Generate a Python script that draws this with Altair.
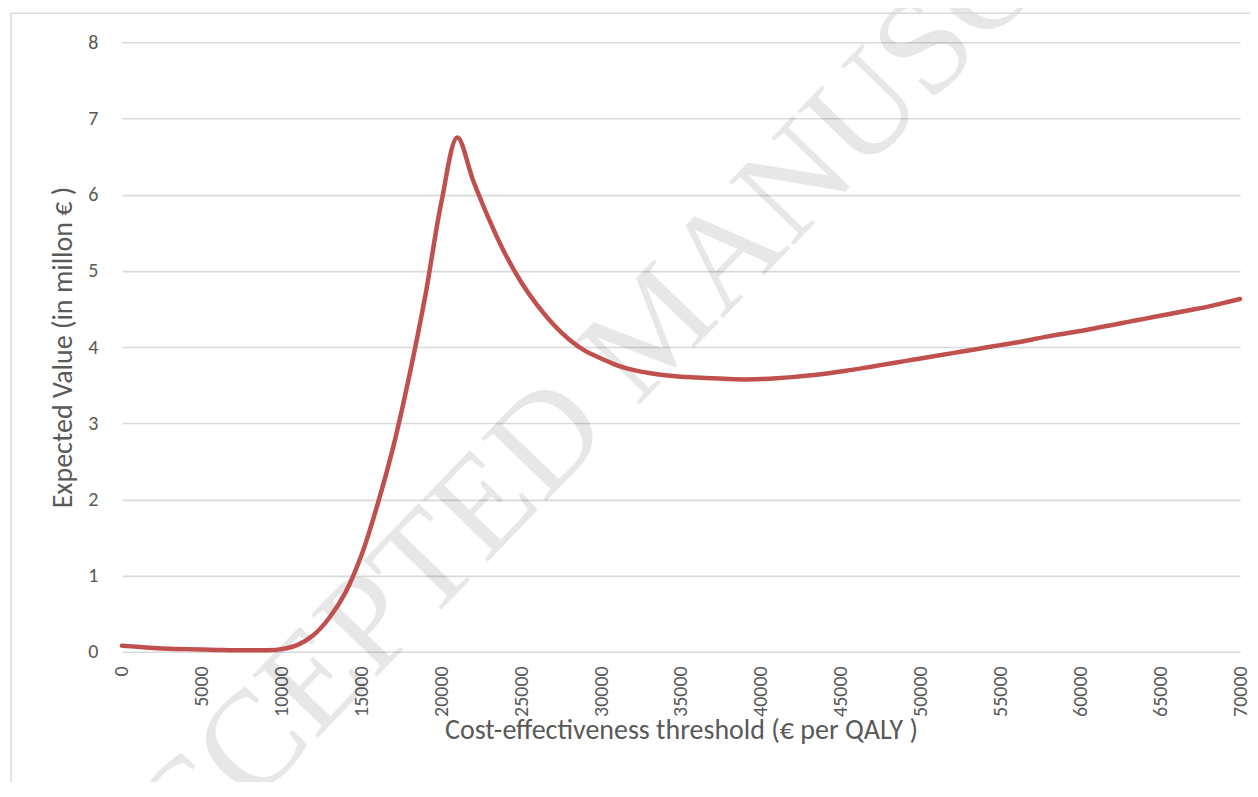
import altair as alt
import pandas as pd

# Cost-effectiveness threshold (€ per QALY), step 1000
thresholds = list(range(0, 70001, 1000))
# Expected value (in million €)
expected_value = [
    0.08, 0.065, 0.05, 0.04, 0.035, 0.03, 0.025, 0.02, 0.02, 0.02,
    0.035, 0.09, 0.22, 0.45, 0.78, 1.27, 1.93, 2.70, 3.63, 4.68,
    5.90, 6.75, 6.18, 5.67, 5.22, 4.85, 4.55, 4.30, 4.10, 3.95,
    3.85, 3.76, 3.70, 3.66, 3.63, 3.61, 3.60, 3.59, 3.58, 3.575,
    3.58, 3.59, 3.605, 3.625, 3.65, 3.68, 3.71, 3.745, 3.78, 3.815,
    3.85, 3.885, 3.92, 3.955, 3.99, 4.025, 4.06, 4.10, 4.14, 4.175,
    4.21, 4.25, 4.29, 4.33, 4.37, 4.41, 4.45, 4.49, 4.53, 4.58,
    4.63,
]
x_ticks = list(range(0, 70001, 5000))
y_ticks = list(range(0, 9))

x_title = "Cost-effectiveness threshold (€ per QALY )"
y_title = "Expected Value (in millon € )"
watermark_text = ["ACCEPTED MANUSCRIPT"]

df = pd.DataFrame({"threshold": thresholds, "value": expected_value})

FONT = "Carlito, Lato, Calibri, sans-serif"
LABEL_COLOR = "#595959"
GRID = "#d9d9d9"

W, H = 1119, 610

watermark = alt.Chart(pd.DataFrame({"t": watermark_text})).mark_text(
    font="Liberation Serif",
    fontSize=138,
    angle=314,
    align="center",
    baseline="middle",
    color="#000000",
    opacity=0.09,
).encode(
    text="t:N",
    x=alt.value(535),
    y=alt.value(286),
)

border_left = alt.Chart(pd.DataFrame({"a": [0]})).mark_rule(
    color=GRID, strokeWidth=1.5
).encode(x=alt.value(-111), y=alt.value(-29), y2=alt.value(760))

border_top = alt.Chart(pd.DataFrame({"a": [0]})).mark_rule(
    color=GRID, strokeWidth=1.5
).encode(x=alt.value(-111), x2=alt.value(1140), y=alt.value(-29))

line = alt.Chart(df).mark_line(
    color="#C0504D", strokeWidth=4.5, interpolate="catmull-rom",
    strokeCap="round", strokeJoin="round",
).encode(
    x=alt.X(
        "threshold:Q",
        scale=alt.Scale(domain=[0, 70000], nice=False, zero=False),
        axis=alt.Axis(
            values=x_ticks,
            format="d",
            title=x_title,
            labelAngle=270,
            labelAlign="right",
            labelBaseline="middle",
            labelPadding=14,
            labelFontSize=20,
            labelColor=LABEL_COLOR,
            labelFont=FONT,
            ticks=False,
            domain=False,
            grid=False,
            titleFont=FONT,
            titleFontSize=28,
            titleFontWeight="normal",
            titleColor=LABEL_COLOR,
            titleY=79,
            titleBaseline="middle",
            labelFlush=False,
            labelOverlap=False,
        ),
    ),
    y=alt.Y(
        "value:Q",
        scale=alt.Scale(domain=[0, 8], nice=False),
        axis=alt.Axis(
            values=y_ticks,
            title=y_title,
            labelPadding=24,
            labelFontSize=20,
            labelColor=LABEL_COLOR,
            labelFont=FONT,
            ticks=False,
            domain=False,
            grid=True,
            gridColor=GRID,
            gridWidth=1.6,
            titleFont=FONT,
            titleFontSize=28,
            titleFontWeight="normal",
            titleColor=LABEL_COLOR,
            titleX=-58,
            titleY=H / 2,
            titleAngle=270,
            titleAlign="center",
            titleBaseline="middle",
            labelFlush=False,
        ),
    ),
)

chart = alt.layer(watermark, border_left, border_top, line).properties(
    width=W,
    height=H,
    autosize=alt.AutoSizeParams(type="none"),
    padding={"left": 114, "top": 34, "right": 10, "bottom": 130},
    background="white",
).configure_view(stroke=None)

chart.save("out.html", embed_options={"renderer": "svg", "actions": False})
